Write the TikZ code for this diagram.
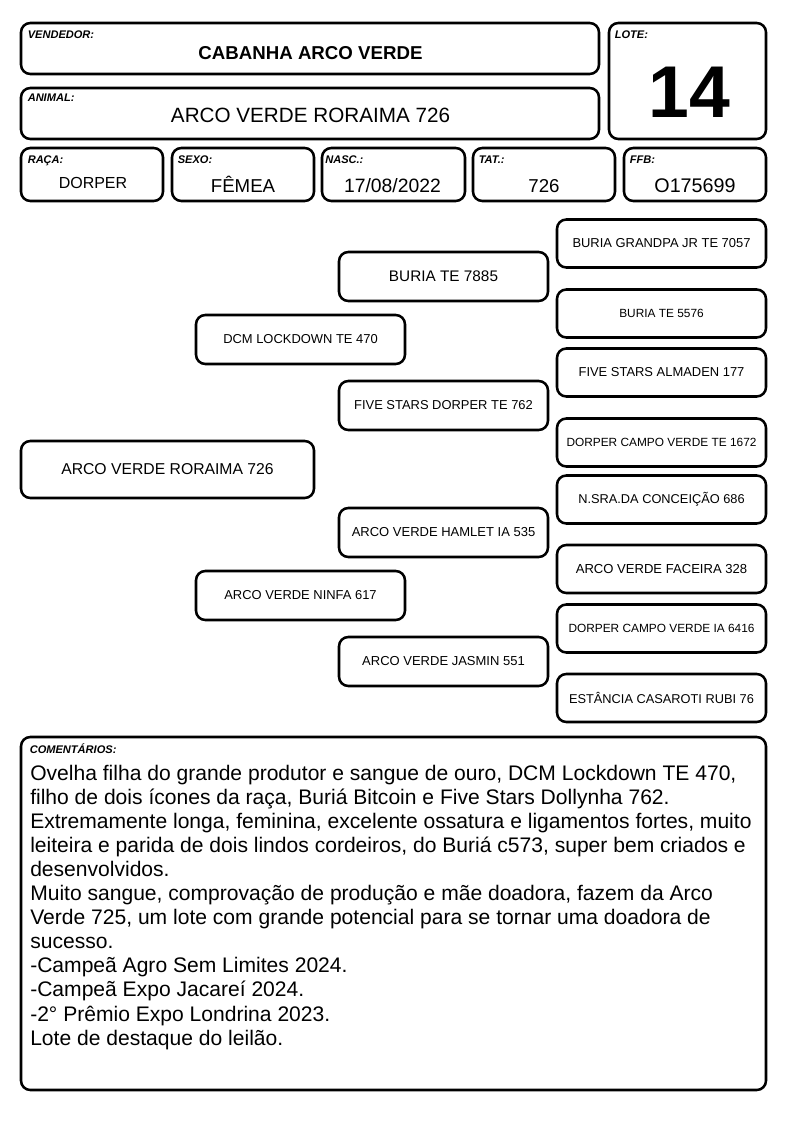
\documentclass[tikz,border=0pt]{standalone}
\usepackage{fontspec}
\setmainfont{Liberation Sans}
\usetikzlibrary{calc}

\begin{document}
\begin{tikzpicture}[x=0.75pt, y=-0.75pt,
  box/.style={draw, line width=1.9pt, rounded corners=7pt, inner sep=0pt},
  topbox/.style={box, minimum width=433.5pt, minimum height=38.25pt},
  smallbox/.style={box, minimum width=106.5pt, minimum height=39.75pt},
  gen2/.style={box, minimum width=156.75pt, minimum height=36.75pt},
  gen4/.style={box, minimum width=156.75pt, minimum height=36pt},
  fs/.style={font=\fontsize{#1}{#1}\selectfont},
  lbl/.style={anchor=base west, inner sep=0pt, font=\fontsize{8.3}{9}\selectfont\bfseries\itshape},
  val/.style={anchor=base, inner sep=0pt}]
  \useasboundingbox (0,0) rectangle (794,1123);
  % header
  \node[topbox] (vendedor) at (310,48.5) {};
  \node[topbox] (animal) at (310,113.5) {};
  \node[box, minimum width=117.75pt, minimum height=87pt] (lote) at (687.5,81) {};
  \node[lbl] (vendedorlbl) at (27.5,39) {VENDEDOR:};
  \node[lbl] (animallbl) at (27.5,102) {ANIMAL:};
  \node[lbl] (lotelbl) at (614.5,39) {LOTE:};
  \node[val, font=\fontsize{14}{16}\selectfont\bfseries] (vendedorval) at (310.5,60) {CABANHA ARCO VERDE};
  \node[val, fs=15.5] (animalval) at (310.5,123) {ARCO VERDE RORAIMA 726};
  \node[val, font=\fontsize{55}{60}\selectfont\bfseries] (loteval) at (689,118) {14};
  % dados
  \node[smallbox] (raca) at (92,174.5) {};
  \node[smallbox] (sexo) at (243,174.5) {};
  \node[box, minimum width=107.25pt, minimum height=39.75pt] (nasc) at (393.5,174.5) {};
  \node[smallbox] (tat) at (544,174.5) {};
  \node[smallbox] (ffb) at (695,174.5) {};
  \node[lbl] (racalbl) at (27.5,164) {RAÇA:};
  \node[lbl] (sexolbl) at (177.5,164) {SEXO:};
  \node[lbl] (nasclbl) at (325,164) {NASC.:};
  \node[lbl] (tatlbl) at (478.5,164) {TAT.:};
  \node[lbl] (ffblbl) at (629.5,164) {FFB:};
  \node[val, fs=12] (racaval) at (93,189) {DORPER};
  \node[val, fs=14] (sexoval) at (243,193) {FÊMEA};
  \node[val, fs=14.5] (nascval) at (392.5,193) {17/08/2022};
  \node[val, fs=14] (tatval) at (544,193) {726};
  \node[val, fs=14.8] (ffbval) at (695,193) {O175699};
  % genealogia
  \node[box, minimum width=219.75pt, minimum height=42.75pt, fs=11.8] (an) at (167.5,469.5) {ARCO VERDE RORAIMA 726};
  \node[gen2, fs=9.7] (p) at (300.5,339.5) {DCM LOCKDOWN TE 470};
  \node[gen2, fs=9.7] (m) at (300.5,595.5) {ARCO VERDE NINFA 617};
  \node[gen2, fs=11.5] (pp) at (443.5,276.5) {BURIA TE 7885};
  \node[gen2, fs=9.7] (pm) at (443.5,405.5) {FIVE STARS DORPER TE 762};
  \node[gen2, fs=9.75] (mp) at (443.5,532.5) {ARCO VERDE HAMLET IA 535};
  \node[gen2, fs=9.75] (mm) at (443.5,661.5) {ARCO VERDE JASMIN 551};
  \node[gen4, fs=9.7] (ppp) at (661.5,243.5) {BURIA GRANDPA JR TE 7057};
  \node[gen4, fs=8.9] (ppm) at (661.5,313.5) {BURIA TE 5576};
  \node[gen4, fs=9.7] (pmp) at (661.5,372.5) {FIVE STARS ALMADEN 177};
  \node[gen4, fs=8.9] (pmm) at (661.5,442.5) {DORPER CAMPO VERDE TE 1672};
  \node[gen4, fs=9.6] (mpp) at (661.5,499.5) {N.SRA.DA CONCEIÇÃO 686};
  \node[gen4, fs=9.8] (mpm) at (661.5,569) {ARCO VERDE FACEIRA 328};
  \node[gen4, fs=8.9] (mmp) at (661.5,628.5) {DORPER CAMPO VERDE IA 6416};
  \node[gen4, fs=9.6] (mmm) at (661.5,698) {ESTÂNCIA CASAROTI RUBI 76};
  % comentarios
  \node[box, minimum width=558.75pt, minimum height=264.75pt] (coment) at (393.5,913.5) {};
  \node[lbl] (comentlbl) at (29.5,753) {COMENTÁRIOS:};
  \foreach \ln [count=\i] in {%
    {Ovelha filha do grande produtor e sangue de ouro, DCM Lockdown TE 470,},
    {filho de dois ícones da raça, Buriá Bitcoin e Five Stars Dollynha 762.},
    {Extremamente longa, feminina, excelente ossatura e ligamentos fortes, muito},
    {leiteira e parida de dois lindos cordeiros, do Buriá c573, super bem criados e},
    {desenvolvidos.},
    {Muito sangue, comprovação de produção e mãe doadora, fazem da Arco},
    {Verde 725, um lote com grande potencial para se tornar uma doadora de},
    {sucesso.},
    {-Campeã Agro Sem Limites 2024.},
    {-Campeã Expo Jacareí 2024.},
    {-2° Prêmio Expo Londrina 2023.},
    {Lote de destaque do leilão.}}
    \node[anchor=base west, inner sep=0pt, fs=15.8] (linha\i) at (30,{780+24.1*(\i-1)}) {\ln};
\end{tikzpicture}
\end{document}
